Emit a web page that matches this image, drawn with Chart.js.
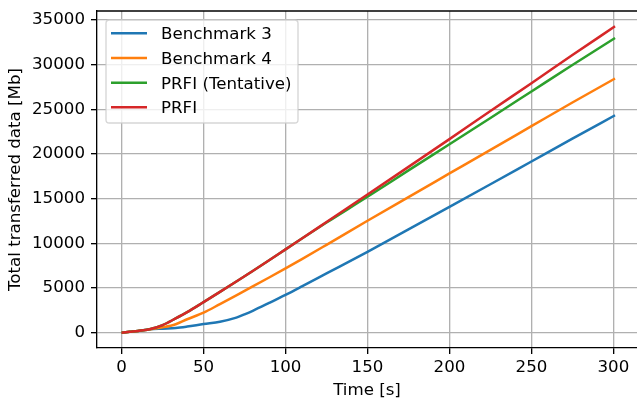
<!DOCTYPE html>
<html>
<head>
<meta charset="utf-8">
<script src="https://cdn.jsdelivr.net/npm/chart.js@4.4.0/dist/chart.umd.min.js"></script>
<style>
  html, body { margin: 0; padding: 0; background: #fff; overflow: hidden; }
  #wrap { width: 637px; height: 399px; }
</style>
</head>
<body>
<div id="wrap"><canvas id="transferChart" width="637" height="399"></canvas></div>
<script>
// Zeitpunkte (s) und kumulierte Datenmenge (Mb) je Verfahren
const times = [0, 5, 10, 17, 25, 33, 40, 50, 60, 70, 75, 80, 90, 100, 110, 125, 150, 175, 200, 225, 250, 275, 301];
const bench3 = [0, 100, 200, 370, 450, 520, 680, 970, 1230, 1680, 2050, 2450, 3330, 4230, 5180, 6630, 9050, 11550, 14070, 16600, 19150, 21700, 24320];
const bench4 = [0, 100, 200, 370, 600, 950, 1500, 2240, 3200, 4180, 4675, 5170, 6170, 7190, 8230, 9830, 12520, 15170, 17810, 20450, 23100, 25750, 28430];
const prfiTentative = [0, 100, 200, 380, 850, 1600, 2300, 3420, 4560, 5720, 6310, 6900, 8100, 9320, 10530, 12320, 15200, 18150, 21080, 24020, 26980, 29940, 32960];
const prfi = [0, 100, 200, 380, 850, 1600, 2300, 3420, 4560, 5720, 6310, 6900, 8100, 9320, 10540, 12380, 15450, 18550, 21650, 24800, 27900, 31050, 34270];

const seriesLabels = ['Benchmark 3', 'Benchmark 4', 'PRFI (Tentative)', 'PRFI'];
const seriesValues = [bench3, bench4, prfiTentative, prfi];
const seriesColors = ['#1f77b4', '#ff7f0e', '#2ca02c', '#d62728'];

const xTicks = [0, 50, 100, 150, 200, 250, 300];
const yTicks = [0, 5000, 10000, 15000, 20000, 25000, 30000, 35000];

const FONT = { family: "'DejaVu Sans', sans-serif", size: 16.67 };

// obere Achsenlinie (Chart.js zeichnet nur die Achsen selbst)
const topSpine = {
  id: 'topSpine',
  afterDraw(chart) {
    const { ctx, chartArea } = chart;
    ctx.save();
    ctx.strokeStyle = '#000';
    ctx.lineWidth = 1.33;
    ctx.beginPath();
    ctx.moveTo(chartArea.left - 0.5, chartArea.top);
    ctx.lineTo(chartArea.right, chartArea.top);
    ctx.stroke();
    ctx.restore();
  }
};

// Legende im matplotlib-Stil oben links
const boxLegend = {
  id: 'boxLegend',
  afterDatasetsDraw(chart) {
    const { ctx } = chart;
    const x = 106, y = 20, w = 192, h = 103, r = 3.3;
    ctx.save();
    ctx.beginPath();
    ctx.roundRect(x, y, w, h, r);
    ctx.fillStyle = 'rgba(255,255,255,0.8)';
    ctx.fill();
    ctx.lineWidth = 1.33;
    ctx.strokeStyle = 'rgba(204,204,204,0.8)';
    ctx.stroke();
    ctx.font = `${FONT.size}px ${FONT.family}`;
    ctx.textBaseline = 'alphabetic';
    ctx.textAlign = 'left';
    chart.data.datasets.forEach((ds, i) => {
      const lineY = 33.3 + i * 24.67;
      ctx.strokeStyle = ds.borderColor;
      ctx.lineWidth = 2.5;
      ctx.beginPath();
      ctx.moveTo(111, lineY);
      ctx.lineTo(147, lineY);
      ctx.stroke();
      ctx.fillStyle = '#000';
      ctx.fillText(ds.label, 161, lineY + 6);
    });
    ctx.restore();
  }
};

const keepTicks = (list) => (scale) => {
  scale.ticks = list.map(v => ({ value: v }));
};

new Chart(document.getElementById('transferChart'), {
  type: 'line',
  data: {
    datasets: seriesLabels.map((label, i) => ({
      label: label,
      data: times.map((t, j) => ({ x: t, y: seriesValues[i][j] })),
      borderColor: seriesColors[i],
      backgroundColor: seriesColors[i],
      borderWidth: 2.5,
      pointRadius: 0,
      cubicInterpolationMode: 'monotone',
      order: seriesLabels.length - i
    }))
  },
  options: {
    responsive: false,
    animation: false,
    devicePixelRatio: 1,
    layout: { padding: { top: 11, right: 0, left: 0, bottom: 0 } },
    plugins: { legend: { display: false }, tooltip: { enabled: false } },
    scales: {
      x: {
        type: 'linear',
        min: -15,
        max: 314.4,
        afterBuildTicks: keepTicks(xTicks),
        afterFit: (scale) => {
          scale.height = 51;
          scale.paddingLeft = 0;
          scale.paddingRight = 0;
        },
        ticks: { color: '#000', font: FONT, padding: 4, maxRotation: 0, callback: v => String(v) },
        grid: { color: '#b0b0b0', lineWidth: 1.33, tickColor: '#000', tickLength: 6, tickWidth: 1.33 },
        border: { color: '#000', width: 1.33 },
        title: { display: true, text: 'Time [s]', color: '#000', font: FONT, padding: { top: 0, bottom: -2 } }
      },
      y: {
        type: 'linear',
        min: -1713,
        max: 35981,
        afterBuildTicks: keepTicks(yTicks),
        afterFit: (scale) => {
          scale.width = 97;
          scale.paddingTop = 0;
          scale.paddingBottom = 0;
        },
        ticks: { color: '#000', font: FONT, padding: 6, callback: v => String(v) },
        grid: { color: '#b0b0b0', lineWidth: 1.33, tickColor: '#000', tickLength: 6, tickWidth: 1.33 },
        border: { color: '#000', width: 1.33 },
        title: { display: true, text: 'Total transferred data [Mb]', color: '#000', font: FONT, padding: { top: 6, bottom: 0 } }
      }
    }
  },
  plugins: [topSpine, boxLegend]
});
</script>
</body>
</html>
